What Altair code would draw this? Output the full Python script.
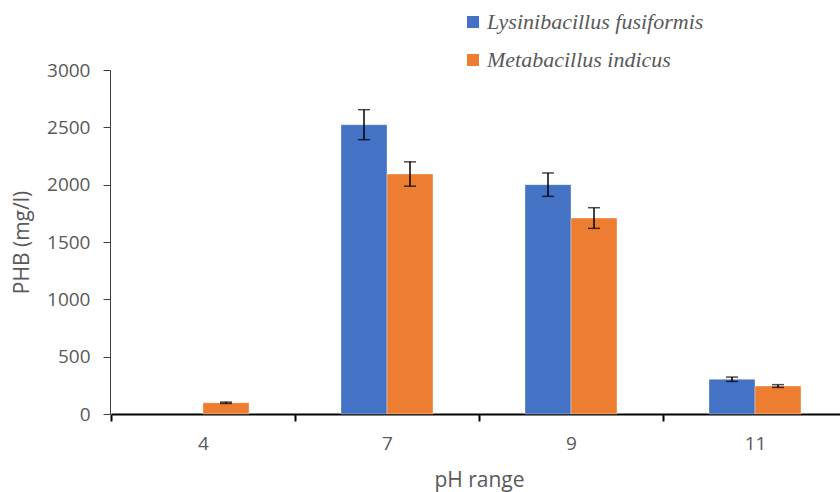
import altair as alt
import pandas as pd

ph = ["4", "7", "9", "11"]
species = ["Lysinibacillus fusiformis", "Metabacillus indicus"]
lys_values = [0, 2523, 2000, 303]
lys_err = [0, 131, 102, 19]
met_values = [98, 2093, 1709, 244]
met_err = [6, 106, 90, 12]
colors = ["#4472C4", "#ED7D31"]
yticks = [0, 500, 1000, 1500, 2000, 2500, 3000]

rows = []
for sp, vals, errs in [(species[0], lys_values, lys_err), (species[1], met_values, met_err)]:
    for p, v, e in zip(ph, vals, errs):
        rows.append({"ph": p, "species": sp, "value": v, "err": e, "lo": v - e, "hi": v + e})
df = pd.DataFrame(rows)

yaxis = alt.Axis(values=yticks, format="d", title="PHB (mg/l)")
yscale = alt.Scale(domain=[0, 3000], nice=False)

base = alt.Chart(df).encode(
    x=alt.X("ph:N", sort=ph, title="pH range",
            scale=alt.Scale(range=[1, 737], paddingInner=0, paddingOuter=0)),
    xOffset=alt.XOffset("species:N", sort=species,
                        scale=alt.Scale(domain=species, paddingInner=0, paddingOuter=1)),
)

bars = base.transform_filter("datum.value > 0").mark_bar(
    stroke="white", strokeWidth=0.6, strokeOpacity=0.6).encode(
    y=alt.Y("value:Q", scale=yscale, axis=yaxis),
    color=alt.Color("species:N", sort=species,
                    scale=alt.Scale(domain=species, range=colors),
                    legend=alt.Legend(orient="none", legendX=352, legendY=-59, title=None,
                                      direction="vertical", padding=0,
                                      labelFont="Liberation Serif", labelFontStyle="italic",
                                      labelFontSize=22, labelColor="#595959", labelLimit=0,
                                      symbolType="square", symbolSize=144,
                                      symbolStrokeWidth=0, labelOffset=3, rowPadding=16)),
)

err = base.transform_filter("datum.err > 0")
rules = err.mark_rule(color="black", strokeWidth=1.5).encode(
    y=alt.Y("lo:Q", scale=yscale, axis=yaxis), y2="hi:Q")
caps_hi = err.mark_tick(color="black", thickness=1.5, size=12).encode(
    y=alt.Y("hi:Q", scale=yscale, axis=yaxis))
caps_lo = err.mark_tick(color="black", thickness=1.5, size=12).encode(
    y=alt.Y("lo:Q", scale=yscale, axis=yaxis))

chart = alt.layer(bars, rules, caps_hi, caps_lo).properties(
    width=730, height=344,
    autosize=alt.AutoSizeParams(type="none"),
    padding={"left": 110, "top": 70, "right": 0, "bottom": 78},
    background="white",
).configure_view(stroke=None).configure_axisX(
    domainColor="black", domainWidth=2, tickColor="black", tickWidth=2, tickSize=7,
    tickBand="extent", labelPadding=13, labelFont="Open Sans", labelFontSize=19,
    labelColor="#595959", labelAngle=0, grid=False,
    titleFont="Open Sans", titleFontSize=21, titleColor="#595959", titleFontWeight="normal",
    titleX=369, titleY=72, titleBaseline="alphabetic",
).configure_axisY(
    domainColor="#404040", domainWidth=1, tickColor="#404040", tickWidth=1, tickSize=7,
    labelPadding=13, labelFont="Open Sans", labelFontSize=19, labelColor="#595959", grid=False,
    titleFont="Open Sans", titleFontSize=21, titleColor="#595959", titleFontWeight="normal",
    titleX=-82, titleY=172, titleBaseline="alphabetic",
)

chart.save("out.html", embed_options={"renderer": "svg", "actions": False})
